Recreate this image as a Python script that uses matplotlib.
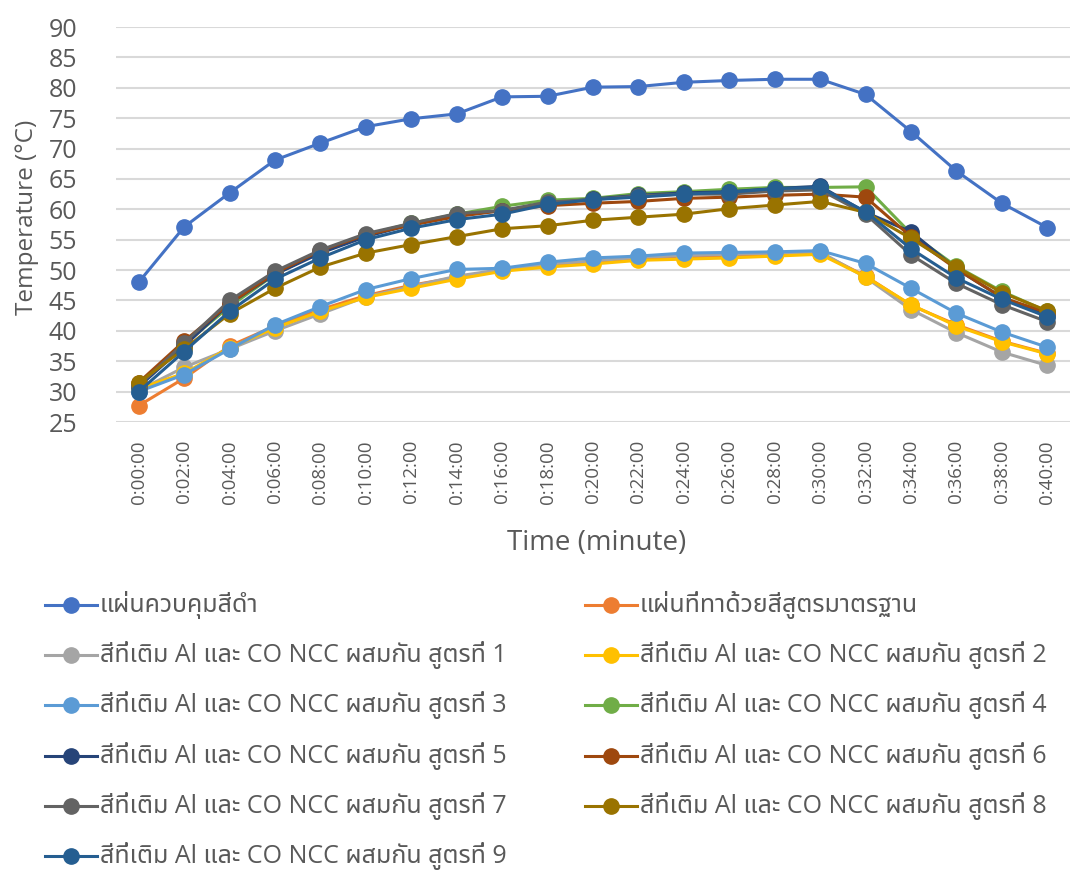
import matplotlib
matplotlib.use("Agg")
import matplotlib.pyplot as plt
from matplotlib import font_manager
from matplotlib.lines import Line2D

# ---------------- data ----------------
times = ["0:00:00", "0:02:00", "0:04:00", "0:06:00", "0:08:00", "0:10:00", "0:12:00",
         "0:14:00", "0:16:00", "0:18:00", "0:20:00", "0:22:00", "0:24:00", "0:26:00",
         "0:28:00", "0:30:00", "0:32:00", "0:34:00", "0:36:00", "0:38:00", "0:40:00"]

control_black = [48.0, 57.1, 62.7, 68.1, 70.9, 73.6, 74.9, 75.7, 78.5, 78.6, 80.1,
                 80.2, 80.9, 81.2, 81.4, 81.4, 78.9, 72.8, 66.3, 61.0, 57.0]
standard = [27.7, 32.2, 37.5, 40.8, 43.5, 45.8, 47.5, 48.8, 50.0, 50.8, 51.3,
            51.8, 52.1, 52.3, 52.5, 52.8, 49.0, 44.2, 41.0, 38.3, 36.3]
f1 = [30.2, 34.0, 37.0, 40.0, 42.8, 45.6, 47.3, 49.0, 50.1, 51.0, 51.5,
      52.1, 52.4, 52.6, 52.8, 53.0, 48.8, 43.5, 39.7, 36.5, 34.3]
f2 = [30.5, 33.0, 37.2, 40.5, 43.2, 45.5, 47.0, 48.5, 49.8, 50.5, 51.0,
      51.6, 51.8, 52.0, 52.3, 52.6, 48.9, 44.3, 40.8, 38.2, 36.2]
f3 = [30.0, 32.8, 37.0, 41.0, 44.0, 46.8, 48.6, 50.1, 50.3, 51.3, 52.0,
      52.3, 52.8, 52.9, 53.0, 53.2, 51.1, 47.0, 42.9, 39.8, 37.3]
f4 = [31.0, 37.8, 44.0, 49.3, 53.0, 55.8, 57.7, 59.2, 60.5, 61.5, 61.8,
      62.6, 62.9, 63.3, 63.6, 63.6, 63.7, 56.0, 50.6, 46.5, 43.2]
f5 = [30.8, 37.5, 44.5, 49.3, 52.8, 55.5, 57.5, 59.0, 59.8, 60.9, 61.7,
      62.3, 62.7, 62.9, 63.4, 63.8, 59.5, 56.3, 50.2, 45.5, 42.5]
f6 = [31.5, 38.3, 44.5, 49.5, 53.2, 55.8, 57.4, 58.8, 59.8, 60.6, 61.0,
      61.3, 61.8, 62.0, 62.3, 62.5, 62.0, 55.5, 50.2, 45.5, 43.0]
f7 = [31.0, 38.0, 45.0, 49.8, 53.3, 56.0, 57.7, 59.3, 59.8, 61.2, 61.6,
      62.2, 62.5, 62.5, 63.0, 63.2, 59.2, 52.5, 47.8, 44.3, 41.5]
f8 = [31.5, 37.0, 42.8, 47.0, 50.5, 52.8, 54.2, 55.5, 56.8, 57.3, 58.2,
      58.7, 59.2, 60.1, 60.7, 61.3, 59.5, 55.2, 50.5, 46.3, 43.3]
f9 = [30.0, 36.6, 43.2, 48.5, 52.0, 55.0, 56.9, 58.3, 59.2, 60.8, 61.6,
      62.0, 62.5, 62.8, 63.4, 63.6, 59.6, 53.5, 48.7, 45.2, 42.3]

series_labels = ["แผ่นควบคุมสีดำ", "แผ่นที่ทาด้วยสีสูตรมาตรฐาน"] + \
    ["สีที่เติม Al และ CO NCC ผสมกัน สูตรที่ %d" % i for i in range(1, 10)]
series_values = [control_black, standard, f1, f2, f3, f4, f5, f6, f7, f8, f9]
series_colors = ["#4472C4", "#ED7D31", "#A5A5A5", "#FFC000", "#5B9BD5", "#70AD47",
                 "#264478", "#9E480E", "#636363", "#997300", "#255E91"]

y_ticks = list(range(25, 91, 5))

# ---------------- fonts ----------------
def find_thai_font():
    try:
        from fontTools.ttLib import TTFont
    except Exception:
        return None
    preferred = []
    for fe in font_manager.fontManager.ttflist:
        try:
            tt = TTFont(fe.fname, fontNumber=0, lazy=True)
            cmap = tt.getBestCmap()
            if cmap and 0x0E01 in cmap and 0x0E2A in cmap:
                preferred.append(fe.name)
        except Exception:
            pass
    if not preferred:
        return None
    for cand in ["Noto Sans Thai", "Noto Sans Thai UI", "Noto Sans", "DejaVu Sans"]:
        if cand in preferred:
            return cand
    return preferred[0]

thai = find_thai_font()
fam = ["Open Sans"]
if thai and thai not in fam:
    fam.append(thai)
fam.append("DejaVu Sans")
plt.rcParams["font.family"] = fam

gray = "#595959"

# ---------------- figure ----------------
fig = plt.figure(figsize=(10.7, 8.74), dpi=100)
ax = fig.add_axes([116 / 1070, 1 - 422 / 874, (1070 - 116) / 1070, (422 - 27) / 874])

x = list(range(len(times)))
for vals, col, lab in zip(series_values, series_colors, series_labels):
    ax.plot(x, vals, color=col, lw=2.2, marker="o", ms=11, label=lab,
            solid_joinstyle="round")

ax.set_xlim(-0.5, len(times) - 0.5)
ax.set_ylim(25, 90)
ax.set_yticks(y_ticks)
ax.set_xticks(x)
ax.set_xticklabels(times, rotation=90, fontsize=13.5, color=gray)
ax.tick_params(axis="y", labelsize=18, colors=gray, length=0, pad=28)
ax.tick_params(axis="x", length=0, pad=13)
for lbl in ax.get_yticklabels():
    lbl.set_color(gray)
ax.grid(axis="y", color="#D9D9D9", lw=1.5)
ax.set_axisbelow(True)
for s in ax.spines.values():
    s.set_visible(False)

fig.text(27 / 1070, 1 - 217 / 874, "Temperature (°C)", rotation=90, fontsize=17.5,
         color=gray, ha="center", va="center")
fig.text(597 / 1070, 1 - 543 / 874, "Time (minute)", fontsize=20, color=gray,
         ha="center", va="center")

# ---------------- legend ----------------
order_rows = [(0, 1), (2, 3), (4, 5), (6, 7), (8, 9), (10, None)]
lx = [45 / 1070, 585 / 1070]
for r, pair in enumerate(order_rows):
    yy = 1 - (605 + r * 50.2) / 874
    for cidx, si in enumerate(pair):
        if si is None:
            continue
        x0 = lx[cidx]
        fig.add_artist(Line2D([x0, x0 + 52 / 1070], [yy, yy], color=series_colors[si],
                              lw=2.2, transform=fig.transFigure))
        fig.add_artist(Line2D([x0 + 26 / 1070], [yy], color=series_colors[si],
                              marker="o", ms=11, lw=0, transform=fig.transFigure))
        fig.text(x0 + 55 / 1070, yy, series_labels[si], fontsize=18, color=gray,
                 ha="left", va="center")

fig.savefig("out.png", dpi=100)
